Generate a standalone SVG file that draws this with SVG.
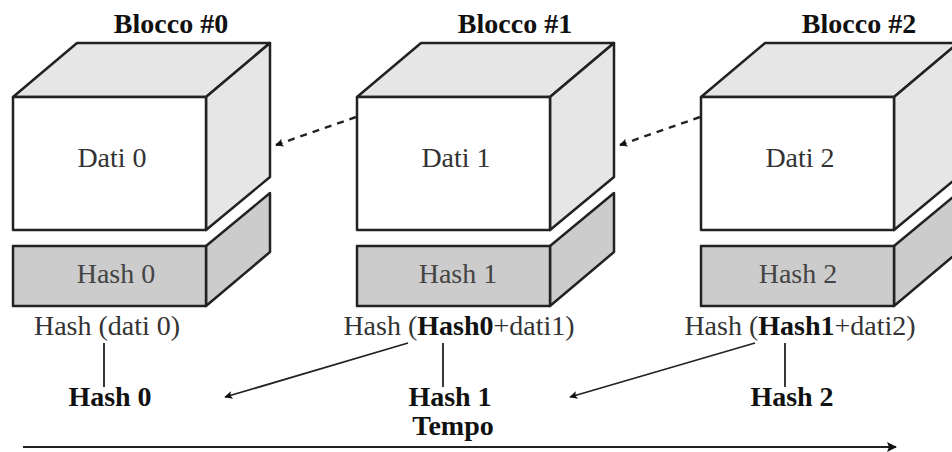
<svg xmlns="http://www.w3.org/2000/svg" width="952" height="452" viewBox="0 0 952 452">
<style>
text{font-family:"Liberation Serif","Times New Roman",serif;font-size:28px;text-anchor:middle}
.b{font-weight:bold;fill:#111}
.r{fill:#333}
.g{fill:#444}
.front{fill:#fff;stroke:#222;stroke-width:2.5;stroke-linejoin:round}
.light{fill:#e6e6e6;stroke:#222;stroke-width:2.5;stroke-linejoin:round}
.hash{fill:#cccccc;stroke:#222;stroke-width:2.5;stroke-linejoin:round}
.ln{stroke:#222;stroke-width:1.8;fill:none}
.dash{stroke:#222;stroke-width:2.4;fill:none;stroke-dasharray:7 6}
</style>
<defs>
<marker id="ah" viewBox="0 0 10 10" refX="9" refY="5" markerWidth="10" markerHeight="8" markerUnits="userSpaceOnUse" orient="auto"><path d="M0,0 L10,5 L0,10 L2,5 Z" fill="#111"/></marker>
<marker id="ahb" viewBox="0 0 10 10" refX="9" refY="5" markerWidth="12" markerHeight="10" markerUnits="userSpaceOnUse" orient="auto"><path d="M0,0 L10,5 L0,10 L2,5 Z" fill="#111"/></marker>
</defs>

<g id="block0">
<text class="b" x="171" y="33">Blocco #0</text>
<polygon class="light" points="13,97 77,43 270,43 206,97"/>
<polygon class="light" points="206,97 270,43 270,177 206,230"/>
<rect class="front" x="13" y="97" width="193" height="133"/>
<text class="r" x="112" y="167">Dati 0</text>
<polygon class="hash" points="206,246 270,193 270,252 206,306"/>
<rect class="hash" x="13" y="246" width="193" height="60"/>
<text class="g" x="116" y="283">Hash 0</text>
<text class="r" x="107" y="335">Hash (dati 0)</text>
<line class="ln" x1="104" y1="343" x2="104" y2="387"/>
<text class="b" x="110" y="406">Hash 0</text>
</g>

<g id="block1">
<text class="b" x="515" y="33">Blocco #1</text>
<polygon class="light" points="357,97 421,43 614,43 550,97"/>
<polygon class="light" points="550,97 614,43 614,177 550,230"/>
<rect class="front" x="357" y="97" width="193" height="133"/>
<text class="r" x="456" y="167">Dati 1</text>
<polygon class="hash" points="550,246 614,193 614,252 550,306"/>
<rect class="hash" x="357" y="246" width="193" height="60"/>
<text class="g" x="458" y="283">Hash 1</text>
<text class="r" x="459" y="335">Hash (<tspan class="b">Hash0</tspan>+dati1)</text>
<line class="ln" x1="443" y1="343" x2="443" y2="387"/>
<text class="b" x="450" y="406">Hash 1</text>
</g>

<g id="block2">
<text class="b" x="859" y="33">Blocco #2</text>
<polygon class="light" points="701,97 765,43 958,43 894,97"/>
<polygon class="light" points="894,97 958,43 958,177 894,230"/>
<rect class="front" x="701" y="97" width="193" height="133"/>
<text class="r" x="800" y="167">Dati 2</text>
<polygon class="hash" points="894,246 958,193 958,252 894,306"/>
<rect class="hash" x="701" y="246" width="193" height="60"/>
<text class="g" x="798" y="283">Hash 2</text>
<text class="r" x="800" y="335">Hash (<tspan class="b">Hash1</tspan>+dati2)</text>
<line class="ln" x1="785" y1="343" x2="785" y2="387"/>
<text class="b" x="792" y="406">Hash 2</text>
</g>

<g id="timeline">
<text class="b" x="453" y="435">Tempo</text>
</g>

<g id="connectors">
<line class="dash" x1="356" y1="117" x2="276" y2="145" marker-end="url(#ah)"/>
<line class="dash" x1="700" y1="117" x2="620" y2="145" marker-end="url(#ah)"/>
<line class="ln" x1="408" y1="343" x2="225" y2="397" marker-end="url(#ah)"/>
<line class="ln" x1="755" y1="343" x2="570" y2="397" marker-end="url(#ah)"/>
<line class="ln" x1="23" y1="447" x2="896" y2="447" marker-end="url(#ahb)"/>
</g>
</svg>
